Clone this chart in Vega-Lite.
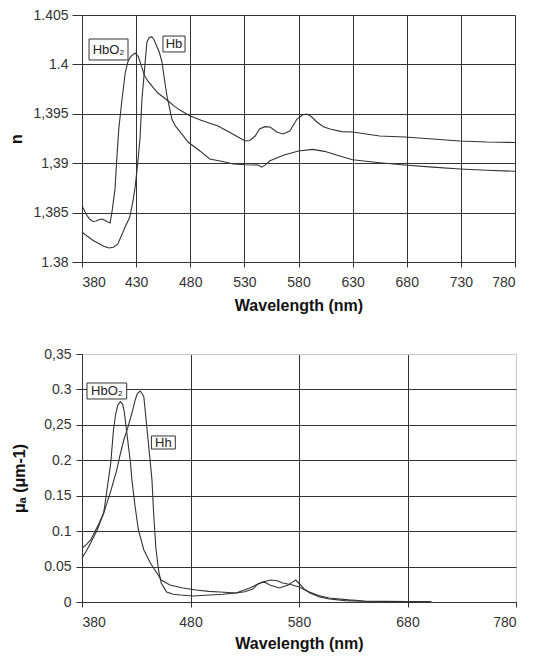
{
  "$schema": "https://vega.github.io/schema/vega-lite/v6.json",
  "background": "white",
  "padding": {"left": 8, "top": 8, "right": 5, "bottom": 2},
  "spacing": 33,
  "config": {
    "font": "Liberation Sans",
    "view": {"stroke": null},
    "axis": {
      "labelFont": "Liberation Sans",
      "labelFontSize": 14,
      "labelColor": "#333",
      "labelOverlap": false,
      "titleFont": "Liberation Sans",
      "titleFontSize": 16,
      "titleFontWeight": "bold",
      "titleColor": "#111",
      "domainColor": "#333",
      "tickColor": "#333",
      "gridColor": "#333",
      "gridOpacity": 1,
      "gridWidth": 1
    }
  },
  "datasets": {
    "n": [
      {"wl": 380, "v": 1.3857, "s": "HbO2"}, {"wl": 384, "v": 1.3848, "s": "HbO2"}, {"wl": 387, "v": 1.38435, "s": "HbO2"},
      {"wl": 390, "v": 1.3841, "s": "HbO2"}, {"wl": 393, "v": 1.38415, "s": "HbO2"}, {"wl": 396, "v": 1.3843, "s": "HbO2"},
      {"wl": 399, "v": 1.38435, "s": "HbO2"}, {"wl": 403, "v": 1.3841, "s": "HbO2"}, {"wl": 406, "v": 1.38395, "s": "HbO2"},
      {"wl": 408, "v": 1.3853, "s": "HbO2"}, {"wl": 410.5, "v": 1.3874, "s": "HbO2"}, {"wl": 412, "v": 1.3902, "s": "HbO2"},
      {"wl": 414, "v": 1.3935, "s": "HbO2"}, {"wl": 417, "v": 1.3965, "s": "HbO2"}, {"wl": 420, "v": 1.3992, "s": "HbO2"},
      {"wl": 422.5, "v": 1.4003, "s": "HbO2"}, {"wl": 425, "v": 1.4008, "s": "HbO2"}, {"wl": 429, "v": 1.40115, "s": "HbO2"},
      {"wl": 432, "v": 1.4008, "s": "HbO2"}, {"wl": 435, "v": 1.3998, "s": "HbO2"}, {"wl": 438, "v": 1.3988, "s": "HbO2"},
      {"wl": 441, "v": 1.3983, "s": "HbO2"}, {"wl": 444.7, "v": 1.3978, "s": "HbO2"}, {"wl": 450, "v": 1.3971, "s": "HbO2"},
      {"wl": 455, "v": 1.3967, "s": "HbO2"}, {"wl": 459.5, "v": 1.3963, "s": "HbO2"}, {"wl": 465, "v": 1.3958, "s": "HbO2"},
      {"wl": 470, "v": 1.3954, "s": "HbO2"}, {"wl": 480, "v": 1.39478, "s": "HbO2"}, {"wl": 490, "v": 1.39435, "s": "HbO2"},
      {"wl": 505.6, "v": 1.39377, "s": "HbO2"}, {"wl": 515, "v": 1.3932, "s": "HbO2"}, {"wl": 525, "v": 1.3926, "s": "HbO2"},
      {"wl": 530.6, "v": 1.39225, "s": "HbO2"}, {"wl": 535, "v": 1.3923, "s": "HbO2"}, {"wl": 540, "v": 1.39275, "s": "HbO2"},
      {"wl": 544, "v": 1.39346, "s": "HbO2"}, {"wl": 549, "v": 1.3937, "s": "HbO2"}, {"wl": 553.7, "v": 1.39366, "s": "HbO2"},
      {"wl": 560, "v": 1.39316, "s": "HbO2"}, {"wl": 565.7, "v": 1.39296, "s": "HbO2"}, {"wl": 572, "v": 1.39326, "s": "HbO2"},
      {"wl": 578.6, "v": 1.39447, "s": "HbO2"}, {"wl": 584, "v": 1.3949, "s": "HbO2"}, {"wl": 587.8, "v": 1.39498, "s": "HbO2"},
      {"wl": 592, "v": 1.3947, "s": "HbO2"}, {"wl": 597, "v": 1.39417, "s": "HbO2"}, {"wl": 603, "v": 1.3937, "s": "HbO2"},
      {"wl": 609, "v": 1.39346, "s": "HbO2"}, {"wl": 620, "v": 1.3932, "s": "HbO2"}, {"wl": 630, "v": 1.39316, "s": "HbO2"},
      {"wl": 655, "v": 1.39275, "s": "HbO2"}, {"wl": 678, "v": 1.39265, "s": "HbO2"}, {"wl": 704, "v": 1.39245, "s": "HbO2"},
      {"wl": 729, "v": 1.39225, "s": "HbO2"}, {"wl": 754, "v": 1.39214, "s": "HbO2"}, {"wl": 780, "v": 1.3921, "s": "HbO2"},
      {"wl": 380, "v": 1.38304, "s": "Hb"}, {"wl": 385, "v": 1.3826, "s": "Hb"}, {"wl": 390, "v": 1.3822, "s": "Hb"},
      {"wl": 395, "v": 1.3819, "s": "Hb"}, {"wl": 400, "v": 1.3816, "s": "Hb"}, {"wl": 405, "v": 1.38142, "s": "Hb"},
      {"wl": 409, "v": 1.3815, "s": "Hb"}, {"wl": 413, "v": 1.3818, "s": "Hb"}, {"wl": 417, "v": 1.3828, "s": "Hb"},
      {"wl": 420, "v": 1.3836, "s": "Hb"}, {"wl": 424, "v": 1.3845, "s": "Hb"}, {"wl": 427, "v": 1.3861, "s": "Hb"},
      {"wl": 429, "v": 1.3875, "s": "Hb"}, {"wl": 431, "v": 1.3895, "s": "Hb"}, {"wl": 433.6, "v": 1.3925, "s": "Hb"},
      {"wl": 435.4, "v": 1.3965, "s": "Hb"}, {"wl": 438, "v": 1.3998, "s": "Hb"}, {"wl": 440, "v": 1.40227, "s": "Hb"},
      {"wl": 442, "v": 1.4027, "s": "Hb"}, {"wl": 444.4, "v": 1.4028, "s": "Hb"}, {"wl": 446.5, "v": 1.4025, "s": "Hb"},
      {"wl": 449, "v": 1.40186, "s": "Hb"}, {"wl": 451.5, "v": 1.4012, "s": "Hb"}, {"wl": 453.9, "v": 1.40024, "s": "Hb"},
      {"wl": 456, "v": 1.3986, "s": "Hb"}, {"wl": 458.5, "v": 1.3968, "s": "Hb"}, {"wl": 461, "v": 1.3955, "s": "Hb"},
      {"wl": 463, "v": 1.39447, "s": "Hb"}, {"wl": 466, "v": 1.3938, "s": "Hb"}, {"wl": 470.5, "v": 1.3932, "s": "Hb"},
      {"wl": 478, "v": 1.39214, "s": "Hb"}, {"wl": 489, "v": 1.39124, "s": "Hb"}, {"wl": 498, "v": 1.39043, "s": "Hb"},
      {"wl": 507.5, "v": 1.39022, "s": "Hb"}, {"wl": 520, "v": 1.38992, "s": "Hb"}, {"wl": 530.6, "v": 1.38985, "s": "Hb"},
      {"wl": 542.6, "v": 1.38982, "s": "Hb"}, {"wl": 546, "v": 1.3896, "s": "Hb"}, {"wl": 549, "v": 1.3898, "s": "Hb"},
      {"wl": 553.7, "v": 1.39025, "s": "Hb"}, {"wl": 566, "v": 1.3908, "s": "Hb"}, {"wl": 580, "v": 1.39123, "s": "Hb"},
      {"wl": 593, "v": 1.3914, "s": "Hb"}, {"wl": 604, "v": 1.3912, "s": "Hb"}, {"wl": 618, "v": 1.39073, "s": "Hb"},
      {"wl": 630, "v": 1.39035, "s": "Hb"}, {"wl": 655, "v": 1.39005, "s": "Hb"}, {"wl": 678, "v": 1.38982, "s": "Hb"},
      {"wl": 704, "v": 1.3896, "s": "Hb"}, {"wl": 729, "v": 1.38941, "s": "Hb"}, {"wl": 754, "v": 1.38928, "s": "Hb"},
      {"wl": 780, "v": 1.38918, "s": "Hb"}
    ],
    "mu": [
      {"wl": 380, "v": 0.0762, "s": "HbO2"}, {"wl": 384, "v": 0.081, "s": "HbO2"}, {"wl": 388, "v": 0.0875, "s": "HbO2"},
      {"wl": 392.6, "v": 0.1016, "s": "HbO2"}, {"wl": 396, "v": 0.112, "s": "HbO2"}, {"wl": 400, "v": 0.1256, "s": "HbO2"},
      {"wl": 403, "v": 0.158, "s": "HbO2"}, {"wl": 406.5, "v": 0.196, "s": "HbO2"}, {"wl": 409, "v": 0.2427, "s": "HbO2"},
      {"wl": 411, "v": 0.265, "s": "HbO2"}, {"wl": 413, "v": 0.278, "s": "HbO2"}, {"wl": 415.4, "v": 0.2827, "s": "HbO2"},
      {"wl": 417.5, "v": 0.279, "s": "HbO2"}, {"wl": 419, "v": 0.268, "s": "HbO2"}, {"wl": 421, "v": 0.2427, "s": "HbO2"},
      {"wl": 424.7, "v": 0.196, "s": "HbO2"}, {"wl": 426, "v": 0.172, "s": "HbO2"}, {"wl": 429, "v": 0.134, "s": "HbO2"},
      {"wl": 432, "v": 0.1016, "s": "HbO2"}, {"wl": 437, "v": 0.0734, "s": "HbO2"}, {"wl": 443, "v": 0.0551, "s": "HbO2"},
      {"wl": 449, "v": 0.041, "s": "HbO2"}, {"wl": 453, "v": 0.031, "s": "HbO2"}, {"wl": 461, "v": 0.024, "s": "HbO2"},
      {"wl": 473, "v": 0.0198, "s": "HbO2"}, {"wl": 485, "v": 0.017, "s": "HbO2"}, {"wl": 497, "v": 0.015, "s": "HbO2"},
      {"wl": 507, "v": 0.0141, "s": "HbO2"}, {"wl": 522, "v": 0.0127, "s": "HbO2"}, {"wl": 530, "v": 0.0145, "s": "HbO2"},
      {"wl": 537.5, "v": 0.0183, "s": "HbO2"}, {"wl": 542, "v": 0.0255, "s": "HbO2"}, {"wl": 546.6, "v": 0.028, "s": "HbO2"},
      {"wl": 549, "v": 0.0275, "s": "HbO2"}, {"wl": 553, "v": 0.024, "s": "HbO2"}, {"wl": 562, "v": 0.0198, "s": "HbO2"},
      {"wl": 570, "v": 0.024, "s": "HbO2"}, {"wl": 574, "v": 0.028, "s": "HbO2"}, {"wl": 577, "v": 0.031, "s": "HbO2"},
      {"wl": 581.4, "v": 0.024, "s": "HbO2"}, {"wl": 585, "v": 0.018, "s": "HbO2"}, {"wl": 590, "v": 0.0127, "s": "HbO2"},
      {"wl": 599, "v": 0.0071, "s": "HbO2"}, {"wl": 608, "v": 0.0043, "s": "HbO2"}, {"wl": 622.6, "v": 0.0019, "s": "HbO2"},
      {"wl": 638, "v": 0.001, "s": "HbO2"}, {"wl": 660, "v": 0.0008, "s": "HbO2"}, {"wl": 680, "v": 0.0007, "s": "HbO2"},
      {"wl": 702, "v": 0.0007, "s": "HbO2"},
      {"wl": 380, "v": 0.062, "s": "Hb"}, {"wl": 384, "v": 0.072, "s": "Hb"}, {"wl": 388, "v": 0.0833, "s": "Hb"},
      {"wl": 394, "v": 0.1016, "s": "Hb"}, {"wl": 400, "v": 0.1256, "s": "Hb"}, {"wl": 406, "v": 0.154, "s": "Hb"},
      {"wl": 412, "v": 0.186, "s": "Hb"}, {"wl": 415, "v": 0.207, "s": "Hb"}, {"wl": 418.5, "v": 0.2286, "s": "Hb"},
      {"wl": 422, "v": 0.245, "s": "Hb"}, {"wl": 426, "v": 0.2667, "s": "Hb"}, {"wl": 429, "v": 0.285, "s": "Hb"},
      {"wl": 431, "v": 0.294, "s": "Hb"}, {"wl": 433.7, "v": 0.2978, "s": "Hb"}, {"wl": 435.5, "v": 0.294, "s": "Hb"},
      {"wl": 437, "v": 0.2893, "s": "Hb"}, {"wl": 440, "v": 0.2427, "s": "Hb"}, {"wl": 443, "v": 0.196, "s": "Hb"},
      {"wl": 444.5, "v": 0.172, "s": "Hb"}, {"wl": 446, "v": 0.1256, "s": "Hb"}, {"wl": 448, "v": 0.0776, "s": "Hb"},
      {"wl": 450.5, "v": 0.0452, "s": "Hb"}, {"wl": 453, "v": 0.0268, "s": "Hb"}, {"wl": 458, "v": 0.0141, "s": "Hb"},
      {"wl": 464, "v": 0.011, "s": "Hb"}, {"wl": 470.6, "v": 0.0099, "s": "Hb"}, {"wl": 482.5, "v": 0.0085, "s": "Hb"},
      {"wl": 498, "v": 0.0099, "s": "Hb"}, {"wl": 510, "v": 0.011, "s": "Hb"}, {"wl": 522, "v": 0.0127, "s": "Hb"},
      {"wl": 534.5, "v": 0.0198, "s": "Hb"}, {"wl": 546.6, "v": 0.0283, "s": "Hb"}, {"wl": 554, "v": 0.031, "s": "Hb"},
      {"wl": 560, "v": 0.03, "s": "Hb"}, {"wl": 565, "v": 0.0268, "s": "Hb"}, {"wl": 574, "v": 0.024, "s": "Hb"},
      {"wl": 580, "v": 0.0212, "s": "Hb"}, {"wl": 589.6, "v": 0.0141, "s": "Hb"}, {"wl": 598, "v": 0.009, "s": "Hb"},
      {"wl": 607.6, "v": 0.0057, "s": "Hb"}, {"wl": 626, "v": 0.003, "s": "Hb"}, {"wl": 641, "v": 0.0014, "s": "Hb"},
      {"wl": 660, "v": 0.0009, "s": "Hb"}, {"wl": 680, "v": 0.0007, "s": "Hb"}, {"wl": 699.5, "v": 0.0007, "s": "Hb"}
    ],
    "nlabels": [
      {"label": "HbO₂", "x": 404.5, "y": 1.4015, "x0": 386.5, "x1": 422.5, "y0": 1.40045, "y1": 1.40257},
      {"label": "Hb", "x": 465, "y": 1.40207, "x0": 454.8, "x1": 475.2, "y0": 1.40126, "y1": 1.40287}
    ],
    "mulabels": [
      {"label": "HbO₂", "x": 403, "y": 0.298, "x0": 384.6, "x1": 421.2, "y0": 0.2865, "y1": 0.3091},
      {"label": "Hh", "x": 455, "y": 0.2251, "x0": 444, "x1": 466, "y0": 0.2159, "y1": 0.2343}
    ]
  },
  "vconcat": [
    {
      "width": 433,
      "height": 247,
      "layer": [
        {
          "data": {"name": "n"},
          "mark": {"type": "line", "color": "#333", "strokeWidth": 1.1},
          "encoding": {
            "x": {
              "field": "wl", "type": "quantitative",
              "scale": {"domain": [380, 780], "nice": false, "zero": false},
              "axis": {
                "values": [380, 430, 480, 530, 580, 630, 680, 730, 780], "tickCount": 20,
                "title": "Wavelength (nm)", "labelOverlap": false,
                "tickSize": 5, "labelPadding": 8, "titlePadding": 8
              }
            },
            "y": {
              "field": "v", "type": "quantitative",
              "scale": {"domain": [1.38, 1.405], "nice": false, "zero": false},
              "axis": {
                "values": [1.38, 1.385, 1.39, 1.395, 1.4, 1.405], "tickCount": 20,
                "labelExpr": "(abs(datum.value - 1.395) < 0.0001 || abs(datum.value - 1.39) < 0.0001 || abs(datum.value - 1.385) < 0.0001) ? replace(format(datum.value, '.4~f'), '.', ',') : format(datum.value, '.4~f')",
                "title": "n", "labelOverlap": false,
                "tickSize": 10, "labelPadding": 4, "titlePadding": 8
              }
            },
            "detail": {"field": "s"}
          }
        },
        {
          "data": {"name": "nlabels"},
          "mark": {"type": "rect", "fill": "white", "stroke": "#333", "strokeWidth": 1},
          "encoding": {
            "x": {"field": "x0", "type": "quantitative"},
            "x2": {"field": "x1"},
            "y": {"field": "y0", "type": "quantitative"},
            "y2": {"field": "y1"}
          }
        },
        {
          "data": {"name": "nlabels"},
          "mark": {"type": "text", "font": "Liberation Sans", "fontSize": 13, "color": "#222", "align": "center", "baseline": "middle"},
          "encoding": {
            "x": {"field": "x", "type": "quantitative"},
            "y": {"field": "y", "type": "quantitative"},
            "text": {"field": "label"}
          }
        }
      ]
    },
    {
      "width": 434,
      "height": 248,
      "view": {"stroke": "#c8c8c8"},
      "layer": [
        {
          "data": {"name": "mu"},
          "mark": {"type": "line", "color": "#333", "strokeWidth": 1.1},
          "encoding": {
            "x": {
              "field": "wl", "type": "quantitative",
              "scale": {"domain": [380, 780], "nice": false, "zero": false},
              "axis": {
                "values": [380, 480, 580, 680, 780], "tickCount": 20,
                "title": "Wavelength (nm)", "labelOverlap": false,
                "gridColor": {"condition": {"test": "datum.value >= 780", "value": "#c8c8c8"}, "value": "#333"},
                "tickSize": 5, "labelPadding": 8, "titlePadding": 6
              }
            },
            "y": {
              "field": "v", "type": "quantitative",
              "scale": {"domain": [0, 0.35], "nice": false},
              "axis": {
                "values": [0, 0.05, 0.1, 0.15, 0.2, 0.25, 0.3, 0.35], "tickCount": 20,
                "labelExpr": "(abs(datum.value - 0.35) < 0.0001 || abs(datum.value - 0.25) < 0.0001) ? replace(format(datum.value, '.2~f'), '.', ',') : format(datum.value, '.2~f')",
                "title": "μₐ (μm-1)", "labelOverlap": false,
                "gridColor": {"condition": {"test": "datum.value >= 0.35", "value": "#c8c8c8"}, "value": "#333"},
                "tickSize": 6, "labelPadding": 5, "titlePadding": 16
              }
            },
            "detail": {"field": "s"}
          }
        },
        {
          "data": {"name": "mulabels"},
          "mark": {"type": "rect", "fill": "white", "stroke": "#333", "strokeWidth": 1},
          "encoding": {
            "x": {"field": "x0", "type": "quantitative"},
            "x2": {"field": "x1"},
            "y": {"field": "y0", "type": "quantitative"},
            "y2": {"field": "y1"}
          }
        },
        {
          "data": {"name": "mulabels"},
          "mark": {"type": "text", "font": "Liberation Sans", "fontSize": 13, "color": "#222", "align": "center", "baseline": "middle"},
          "encoding": {
            "x": {"field": "x", "type": "quantitative"},
            "y": {"field": "y", "type": "quantitative"},
            "text": {"field": "label"}
          }
        }
      ]
    }
  ]
}
